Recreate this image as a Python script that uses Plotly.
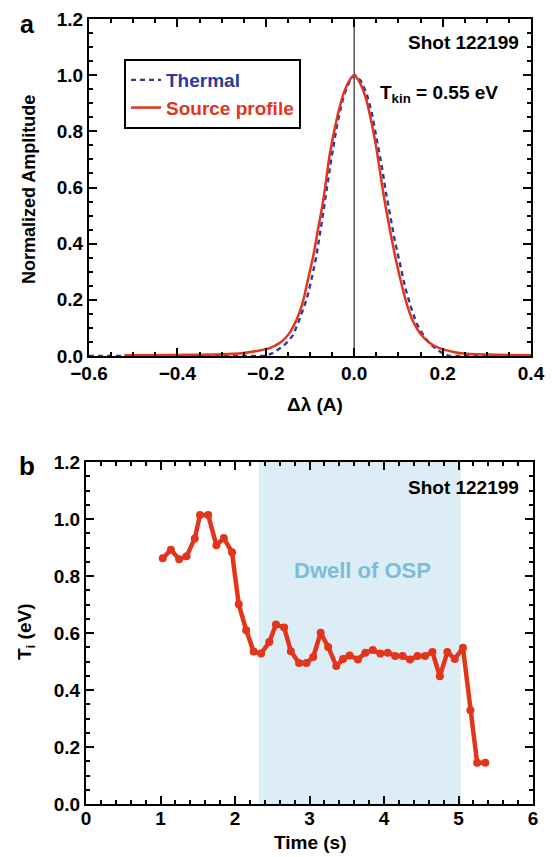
import plotly.graph_objects as go

# ---------------- Panel a data ----------------
thermal_x = [-0.60, -0.40, -0.20, -0.185, -0.172, -0.161, -0.150, -0.138, -0.125, -0.108,
             -0.097, -0.086, -0.076, -0.066, -0.052, -0.038, -0.024, -0.010, 0.002,
             0.015, 0.028, 0.040, 0.052, 0.063, 0.072, 0.082, 0.092, 0.105, 0.116,
             0.128, 0.140, 0.149, 0.160, 0.171, 0.185, 0.202, 0.215, 0.30, 0.40]
thermal_y = [0.0, 0.0, 0.0, 0.010, 0.022, 0.035, 0.052, 0.075, 0.125, 0.199,
             0.270, 0.353, 0.450, 0.555, 0.700, 0.830, 0.925, 0.980, 1.000,
             0.980, 0.935, 0.865, 0.770, 0.670, 0.580, 0.490, 0.410, 0.318, 0.240,
             0.176, 0.120, 0.093, 0.065, 0.045, 0.025, 0.008, 0.0, 0.0, 0.0]

source_x = [-0.52, -0.40, -0.30, -0.25, -0.22, -0.19, -0.17, -0.155, -0.145, -0.134,
            -0.125, -0.115, -0.105, -0.093, -0.082, -0.070, -0.055, -0.040, -0.025,
            -0.012, 0.0, 0.012, 0.025, 0.036, 0.048, 0.058, 0.067, 0.076, 0.085,
            0.096, 0.108, 0.119, 0.134, 0.149, 0.170, 0.194, 0.220, 0.240, 0.30, 0.40]
source_y = [0.003, 0.004, 0.006, 0.011, 0.018, 0.029, 0.045, 0.065, 0.085, 0.117,
            0.150, 0.199, 0.270, 0.353, 0.450, 0.555, 0.720, 0.840, 0.930,
            0.978, 1.000, 0.975, 0.925, 0.855, 0.760, 0.660, 0.570, 0.490, 0.415,
            0.330, 0.250, 0.185, 0.120, 0.081, 0.047, 0.027, 0.016, 0.010, 0.005, 0.003]

ref_line_x = 0.0

# ---------------- Panel b data ----------------
time_s = [1.03, 1.14, 1.25, 1.35, 1.46, 1.53, 1.64, 1.75, 1.85, 1.96,
          2.05, 2.15, 2.25, 2.35, 2.46, 2.55, 2.66, 2.75, 2.86, 2.96,
          3.05, 3.15, 3.25, 3.36, 3.45, 3.54, 3.65, 3.75, 3.85, 3.95,
          4.05, 4.15, 4.25, 4.35, 4.45, 4.55, 4.65, 4.75, 4.85, 4.95,
          5.06, 5.16, 5.25, 5.36]
ti_ev = [0.862, 0.892, 0.859, 0.869, 0.932, 1.014, 1.014, 0.908, 0.933, 0.883,
         0.701, 0.610, 0.535, 0.528, 0.568, 0.630, 0.619, 0.536, 0.495, 0.495,
         0.516, 0.601, 0.551, 0.484, 0.509, 0.521, 0.507, 0.531, 0.540, 0.528,
         0.531, 0.519, 0.519, 0.507, 0.519, 0.519, 0.533, 0.448, 0.533, 0.509,
         0.548, 0.329, 0.145, 0.145]
dwell_start, dwell_end = 2.32, 5.03

# ---------------- Layout helpers ----------------
# The page body has an 8px default margin, so the figure is drawn at (8, 8)
OFF = 8
W, H = 556 - OFF, 857 - OFF
ML, MR, MT, MB = 86 - OFF, 23, 19 - OFF, 53
PW, PH = W - ML - MR, H - MT - MB


def px(x):
    """screen pixel x -> paper coordinate"""
    return (x - OFF - ML) / PW


def py(y):
    """screen pixel y -> paper coordinate"""
    return (H - MB - (y - OFF)) / PH


FONT = "Liberation Sans, Arial, Helvetica, sans-serif"
RED = "#e3341c"
BLUE = "#2b3a9c"

fig = go.Figure()

fig.add_trace(go.Scatter(
    x=thermal_x, y=thermal_y, mode="lines",
    line=dict(color=BLUE, width=2.4, dash="5px,4px"),
    name="<span style='color:%s'>Thermal</span>" % BLUE,
    xaxis="x", yaxis="y"))
fig.add_trace(go.Scatter(
    x=source_x, y=source_y, mode="lines", line_shape="spline",
    line=dict(color=RED, width=2.5),
    name="<span style='color:%s'>Source profile</span>" % RED,
    xaxis="x", yaxis="y"))

fig.add_trace(go.Scatter(
    x=time_s, y=ti_ev, mode="lines+markers",
    line=dict(color=RED, width=4.5),
    marker=dict(color=RED, size=8),
    showlegend=False, xaxis="x2", yaxis="y2"))

tickfont = dict(family=FONT, size=19, color="black", weight="bold")
common = dict(showgrid=False, zeroline=False, showline=True, linecolor="black",
              linewidth=2, mirror="allticks", ticks="inside", ticklen=8,
              tickwidth=2, tickcolor="black", tickfont=tickfont, automargin=False)
minor_y = dict(dtick=0.05, ticks="inside", ticklen=4, tickwidth=1.5, tickcolor="black")

fig.update_layout(
    width=W, height=H,
    margin=dict(l=ML, r=MR, t=MT, b=MB, autoexpand=False),
    paper_bgcolor="white", plot_bgcolor="white",
    xaxis=dict(domain=[px(89), px(531)], range=[-0.6, 0.4], anchor="y",
               dtick=0.2, tick0=-0.6, tickformat=".1f", ticklabelstandoff=-1,
               minor=dict(dtick=0.05, ticks="inside", ticklen=4, tickwidth=1.5,
                          tickcolor="black"), **common),
    yaxis=dict(domain=[py(356), py(19)], range=[0, 1.2], anchor="x",
               dtick=0.2, tickformat=".1f", minor=minor_y, **common),
    xaxis2=dict(domain=[0, 1], range=[0, 6], anchor="y2", dtick=1,
                ticklabelstandoff=-4,
                minor=dict(dtick=0.2, ticks="inside", ticklen=4, tickwidth=1.5,
                           tickcolor="black"), **common),
    yaxis2=dict(domain=[0, py(462)], range=[0, 1.2], anchor="x2",
                dtick=0.2, tickformat=".1f", minor=minor_y, **common),
    legend=dict(x=px(124), y=py(59), xanchor="left", yanchor="top",
                bgcolor="white", bordercolor="black", borderwidth=2,
                font=dict(family=FONT, size=19, weight="bold"),
                itemwidth=30, tracegroupgap=0),
    showlegend=True,
)

# reference line at zero shift
fig.add_shape(type="line", xref="x", yref="y", x0=ref_line_x, x1=ref_line_x,
              y0=0, y1=1.2, line=dict(color="#555555", width=1.5), layer="below")
# dwell region
fig.add_shape(type="rect", xref="x2", yref="y2", x0=dwell_start, x1=dwell_end,
              y0=0, y1=1.2, fillcolor="#dcedf5", line=dict(width=0), layer="below")


def ann(text, x, y, size=19, color="black", xanchor="center", yanchor="middle",
        angle=0):
    fig.add_annotation(text=text, x=px(x), y=py(y), xref="paper", yref="paper",
                       showarrow=False, xanchor=xanchor, yanchor=yanchor,
                       textangle=angle,
                       font=dict(family=FONT, size=size, color=color, weight="bold"))


ann("a", 27, 8, size=25, yanchor="top")
ann("b", 27, 466, size=26)
ann("Shot 122199", 521, 42, size=19, xanchor="right")
ann("Shot 122199", 521, 487, size=19, xanchor="right")
ann("T<sub>kin</sub> = 0.55 eV", 378, 94, size=19, xanchor="left")
ann("Normalized Amplitude", 29, 190, size=18, angle=-90)
ann("\u0394\u03bb (A)", 315, 404, size=19)
ann("T<sub>i</sub> (eV)", 26, 632, size=19, angle=-90)
ann("Time (s)", 310, 842, size=19)
ann("Dwell of OSP", 362, 570, size=22, color="#7dbcd8")

fig.write_html("out.html")
